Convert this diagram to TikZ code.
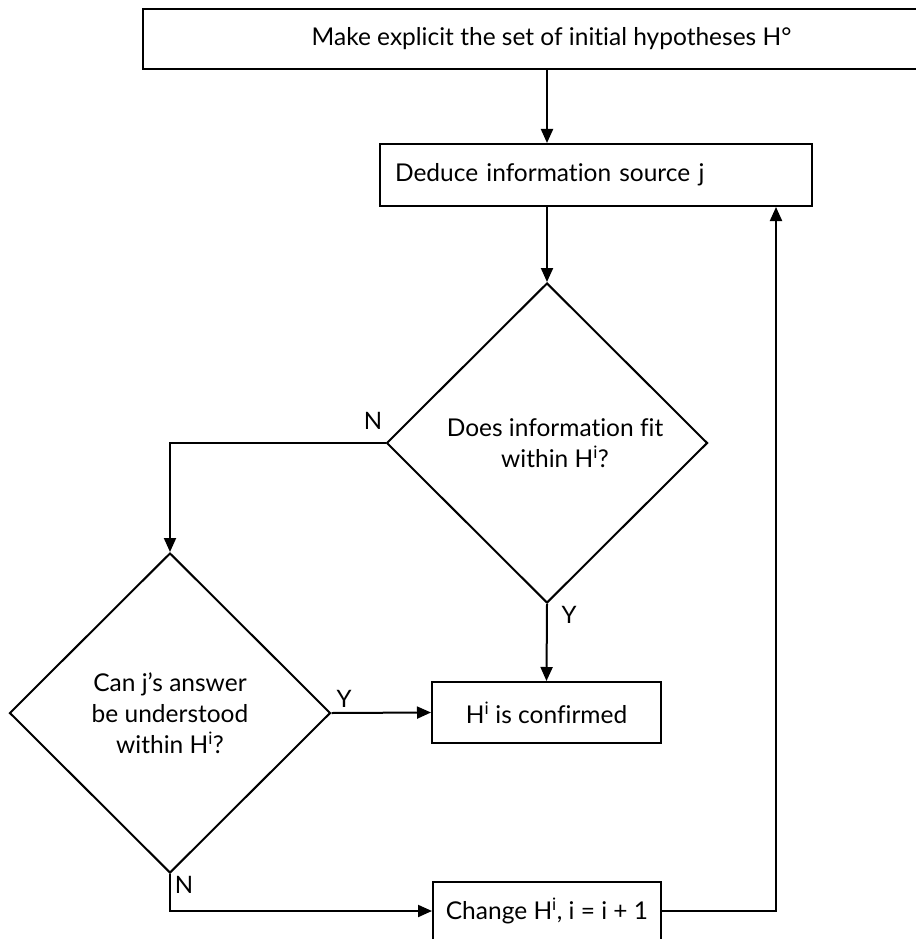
\documentclass[tikz,border=0pt]{standalone}
\usepackage{fontspec}
\setmainfont{Lato}[Ligatures=NoCommon]
\usetikzlibrary{shapes.geometric,arrows.meta}
\tikzset{
  box/.style={draw, line width=2pt, rectangle, inner sep=0pt, align=center},
  choice/.style={draw, line width=2pt, diamond, inner sep=0pt, minimum width=321pt, minimum height=320pt, align=center},
  flow/.style={line width=2pt, -{Triangle[length=14pt,width=12pt]}},
  yn/.style={font=\fontsize{24}{28}\selectfont}
}
\begin{document}
\begin{tikzpicture}[x=1pt, y=-1pt, font=\fontsize{24.5}{31}\selectfont]
      \useasboundingbox (0,0) rectangle (915,939);
      % Boxes
      \node[box, minimum width=817pt, minimum height=60pt] (start) at (551.5,39) {Make explicit the set of initial hypotheses H°};
      \node[box, minimum width=432pt, minimum height=62pt, text width=402pt, inner xsep=15pt, align=left] (deduce) at (596,175) {Deduce information source j};
      \node[box, minimum width=229pt, minimum height=61pt] (confirm) at (546.5,712.5) {H\textsuperscript{i} is confirmed};
      \node[box, minimum width=228pt, minimum height=58pt] (change) at (547,911) {Change H\textsuperscript{i}, i = i + 1};
      % Decisions
      \node[choice] (fit) at (547,443) {\hspace*{16pt}Does information fit\\\hspace*{16pt}within H\textsuperscript{i}?};
      \node[choice] (grasp) at (170,713) {Can j’s answer\\be understood\\within H\textsuperscript{i}?};
      % Connectors
      \draw[flow] (fit.north |- start.south) -- (fit.north |- deduce.north);
      \draw[flow] (fit.north |- deduce.south) -- (fit.north);
      \draw[flow] (fit.west) -- (fit.west -| grasp.north) -- (grasp.north);
      \draw[flow] (fit.south) -- (confirm.north);
      \draw[flow] (grasp.east) -- (confirm.west);
      \draw[flow] (grasp.south) -- (grasp.south |- change.west) -- (change.west);
      \coordinate (back) at (776,911);
      \draw[flow] (change.east) -- (back) -- (back |- deduce.south);
      % Y / N labels
      \node[yn] (n1) at (373,421) {N};
      \node[yn] (y1) at (569,615) {Y};
      \node[yn] (y2) at (344,699) {Y};
      \node[yn] (n2) at (184,885) {N};
    \end{tikzpicture}
\end{document}
